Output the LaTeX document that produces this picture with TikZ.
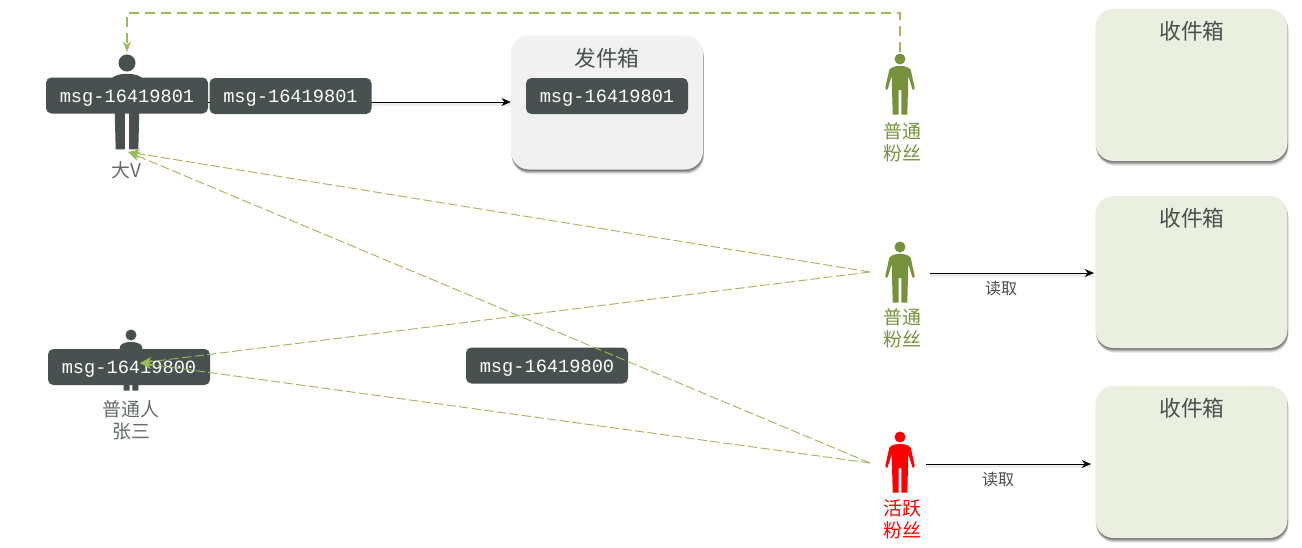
\documentclass[tikz,border=0pt]{standalone}
\usepackage{fontspec}
\setmainfont{Noto Sans CJK SC}
\setmonofont{Liberation Mono}
\usetikzlibrary{arrows.meta}
\usetikzlibrary{shadows}

\definecolor{slate}{HTML}{495050}
\definecolor{leaf}{HTML}{76923C}
\definecolor{lime}{HTML}{9BBB59}
\definecolor{inboxfill}{HTML}{EBEFDF}
\definecolor{outboxfill}{HTML}{F1F1F1}

\begin{document}
\begin{tikzpicture}[
    x=0.75pt, y=-0.75pt,
    softshadow/.style={
      drop shadow={shadow xshift=0.8pt, shadow yshift=-3.6pt, opacity=0.08, fill=black},
      drop shadow={shadow xshift=0.6pt, shadow yshift=-2.8pt, opacity=0.14, fill=black},
      drop shadow={shadow xshift=0.4pt, shadow yshift=-2pt, opacity=0.22, fill=black},
      drop shadow={shadow xshift=0.2pt, shadow yshift=-1pt, opacity=0.25, fill=black}
    },
    inbox/.style={
      fill=inboxfill, rounded corners=13.5pt, minimum width=144pt, minimum height=114pt,
      inner sep=0pt, softshadow
    },
    outbox/.style={
      fill=outboxfill, rounded corners=13.5pt, minimum width=144pt, minimum height=100.5pt,
      inner sep=0pt, softshadow
    },
    boxtitle/.style={
      text=slate, font=\fontsize{16.3}{20}\selectfont
    },
    msgbox/.style={
      fill=slate, text=white, rounded corners=4pt, minimum width=121.5pt, minimum height=27pt,
      inner sep=0pt, text height=12pt, text depth=2.2pt,
      font=\ttfamily\fontsize{14}{16}\selectfont
    },
    figlabel/.style={
      align=center, font=\fontsize{14.2}{16.5}\selectfont
    },
    readlabel/.style={
      text=black!70, font=\fontsize{12}{14}\selectfont
    },
    readarrow/.style={
      -{Stealth[length=7pt,width=6pt]}, black, line width=0.7pt,
      preaction={draw=black!7, line width=2.5pt, -, transform canvas={yshift=-1.5pt}}
    },
    pusharrow/.style={
      -{Stealth[length=9pt,width=7pt]}, lime, line width=0.7pt, dash pattern=on 7pt off 2.5pt
    },
    fetcharrow/.style={
      -{Stealth[length=8pt,width=6pt]}, lime, line width=1.5pt, dash pattern=on 7.5pt off 4.5pt
    },
    figure/.pic={
      \fill[pic actions] (0,0) circle (5.5);
      \fill[pic actions, line join=round]
        (0,7) .. controls (-5,7) and (-8.5,8) .. (-10.7,10.7) -- (-14.7,29)
        .. controls (-14.8,31) and (-12.5,31.5) .. (-12.3,30) -- (-8.3,17)
        -- (-7.3,55.7) -- (-1.3,55.7) -- (-1.3,31) -- (1.3,31) -- (1.3,55.7)
        -- (7.3,55.7) -- (8.3,17) -- (12.3,30)
        .. controls (12.5,31.5) and (14.8,31) .. (14.7,29) -- (10.7,10.7)
        .. controls (8.5,8) and (5,7) .. (0,7) -- cycle;
    }
  ]
    \useasboundingbox (0,0) rectangle (1302,547);

    \coordinate (FA) at ( 900,  59);
    \coordinate (FB) at ( 900, 247);
    \coordinate (FC) at ( 900, 437);
    \coordinate (VV) at ( 127,  63);
    \coordinate (ZS) at ( 131, 335);

    % figures
    \pic[fill=slate, scale=1.55] at (VV) {figure};
    \pic[fill=slate] at (ZS) {figure};
    \pic[fill=leaf] at (FA) {figure};
    \pic[fill=leaf] at (FB) {figure};
    \pic[fill=red]  at (FC) {figure};

    \node[figlabel, text=slate!85] (vvL) at (126, 170) {大V};
    \node[figlabel, text=slate!85] (zsL) at (131, 420) {普通人\\张三};
    \node[figlabel, text=leaf] (faL) at (902, 142) {普通\\粉丝};
    \node[figlabel, text=leaf] (fbL) at (902, 328) {普通\\粉丝};
    \node[figlabel, text=red]  (fcL) at (902, 519) {活跃\\粉丝};

    % boxes
    \node[outbox] (OUT) at (607, 102.5) {};
    \node[boxtitle] (OUTT) at (607, 58) {发件箱};
    \node[inbox] (INA) at (1191.5,  85) {};
    \node[boxtitle] (INAT) at (1192,  31) {收件箱};
    \node[inbox] (INB) at (1191.5, 272) {};
    \node[boxtitle] (INBT) at (1192, 218) {收件箱};
    \node[inbox] (INC) at (1191.5, 462) {};
    \node[boxtitle] (INCT) at (1192, 408) {收件箱};

    % messages
    \node[msgbox] (MVA) at (127, 95.5) {msg-16419801};
    \draw[readarrow] (MVA.east |- 0,102) -- (OUT.west |- 0,102);
    \node[msgbox] (MVB) at (290.5, 96) {msg-16419801};
    \node[msgbox] (MOUT) at (607, 96) {msg-16419801};
    \node[msgbox] (MZS) at (129, 367) {msg-16419800};
    \node[msgbox] (MFL) at (547, 365.5) {msg-16419800};

    \coordinate (FAtop) at (900, 52);
    \coordinate (VVtop) at (127, 52);
    \coordinate (VVfoot) at (128, 152);
    \coordinate (ZStip) at (140, 363);
    \coordinate (FBleft) at (870, 272);
    \coordinate (FCleft) at (870, 463);

    \draw[fetcharrow] (FAtop) -- (900, 13) -- (127, 13) -- (VVtop);
    \draw[pusharrow] (FBleft) -- (VVfoot);
    \draw[pusharrow] (FCleft) -- (VVfoot);
    \draw[pusharrow] (FBleft) -- (ZStip);
    \draw[pusharrow] (FCleft) -- (ZStip);

    \coordinate (FBright) at (930, 273);
    \coordinate (FCright) at (926, 464);
    \draw[readarrow] (FBright) -- (1094, 273);
    \draw[readarrow] (FCright) -- (1091, 464);
    \node[readlabel] (RDA) at (1001, 288) {读取};
    \node[readlabel] (RDB) at (998, 479) {读取};
  \end{tikzpicture}
\end{document}
